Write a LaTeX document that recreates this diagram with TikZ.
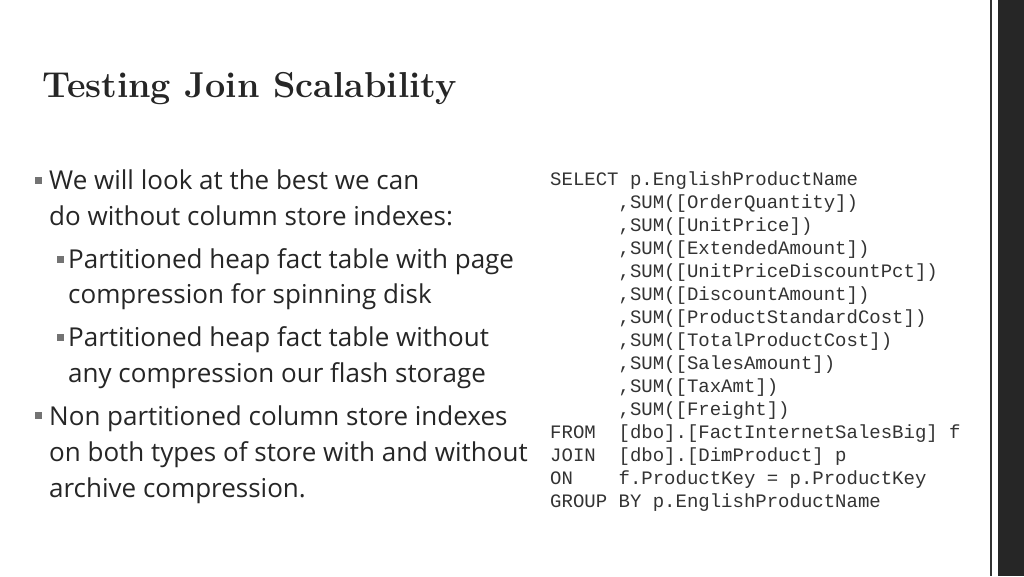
\documentclass[tikz,border=0pt]{standalone}
\usepackage{fontspec}
\newfontfamily\bodyf{Open Sans}
\newfontfamily\codef{Liberation Mono}
\begin{document}
\begin{tikzpicture}[x=1pt,y=-1pt,
  tx/.style={anchor=base west,inner sep=0pt,font=\bodyf\fontsize{26}{30}\selectfont,text=black!85},
  cd/.style={anchor=base west,inner sep=0pt,font=\codef\fontsize{19}{22}\selectfont,text=black!80},
  bul/.style={fill=black!55,minimum size=7pt,inner sep=0pt}]
\useasboundingbox (0,0) rectangle (1024,576);
\fill[white] (0,0) rectangle (1024,576);
\fill[black!85] (998,0) rectangle (1024,576);
\draw[black!80,line width=2pt] (991,0) -- (991,576);
\node[anchor=base west,inner sep=0pt,font=\bfseries\fontsize{36}{40}\selectfont,text=black!85] (title) at (42,97) {Testing Join Scalability};
\node[bul] (b1) at (38,180) {};
\node[tx] (l1) at (49,189) {We will look at the best we can};
\node[tx] (l2) at (49,225) {do without column store indexes:};
\node[bul] (b2) at (60,259) {};
\node[tx] (l3) at (68,268) {Partitioned heap fact table with page};
\node[tx] (l4) at (68,303) {compression for spinning disk};
\node[bul] (b3) at (60,337) {};
\node[tx] (l5) at (68,346) {Partitioned heap fact table without};
\node[tx] (l6) at (68,382) {any compression our flash storage};
\node[bul] (b4) at (38,415) {};
\node[tx] (l7) at (49,425) {Non partitioned column store indexes};
\node[tx] (l8) at (49,461) {on both types of store with and without};
\node[tx] (l9) at (49,497) {archive compression.};
\foreach \t [count=\i from 0] in {SELECT p.EnglishProductName,
 {\ \ \ \ \ \ ,SUM([OrderQuantity])},
 {\ \ \ \ \ \ ,SUM([UnitPrice])},
 {\ \ \ \ \ \ ,SUM([ExtendedAmount])},
 {\ \ \ \ \ \ ,SUM([UnitPriceDiscountPct])},
 {\ \ \ \ \ \ ,SUM([DiscountAmount])},
 {\ \ \ \ \ \ ,SUM([ProductStandardCost])},
 {\ \ \ \ \ \ ,SUM([TotalProductCost])},
 {\ \ \ \ \ \ ,SUM([SalesAmount])},
 {\ \ \ \ \ \ ,SUM([TaxAmt])},
 {\ \ \ \ \ \ ,SUM([Freight])},
 {FROM\ \ [dbo].[FactInternetSalesBig] f},
 {JOIN\ \ [dbo].[DimProduct] p},
 {ON\ \ \ \ f.ProductKey = p.ProductKey},
 {GROUP BY p.EnglishProductName}}
  \node[cd] (c\i) at (550,{185+23*\i}) {\t};
\end{tikzpicture}
\end{document}
